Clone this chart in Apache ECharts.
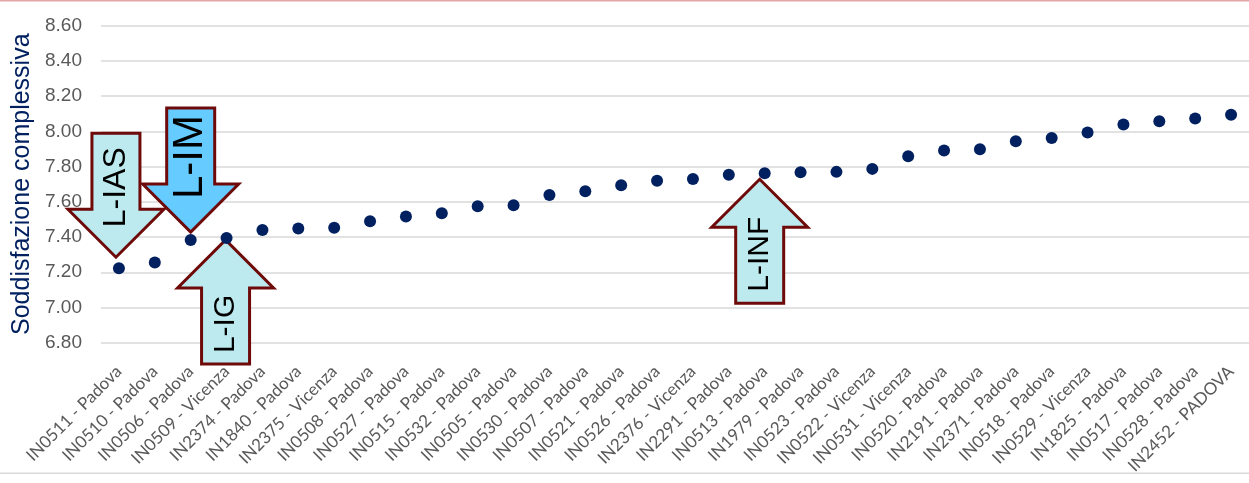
<!DOCTYPE html>
<html>
<head>
<meta charset="utf-8">
<script src="https://cdn.jsdelivr.net/npm/echarts@6/dist/echarts.min.js"></script>
<style>
  html, body { margin: 0; padding: 0; background: #fff; }
  #chart { width: 1249px; height: 483px; }
</style>
</head>
<body>
<div id="chart"></div>
<script>
'use strict';

// corsi di laurea
var categories = [
  'IN0511 - Padova', 'IN0510 - Padova', 'IN0506 - Padova', 'IN0509 - Vicenza',
  'IN2374 - Padova', 'IN1840 - Padova', 'IN2375 - Vicenza', 'IN0508 - Padova',
  'IN0527 - Padova', 'IN0515 - Padova', 'IN0532 - Padova', 'IN0505 - Padova',
  'IN0530 - Padova', 'IN0507 - Padova', 'IN0521 - Padova', 'IN0526 - Padova',
  'IN2376 - Vicenza', 'IN2291 - Padova', 'IN0513 - Padova', 'IN1979 - Padova',
  'IN0523 - Padova', 'IN0522 - Vicenza', 'IN0531 - Vicenza', 'IN0520 - Padova',
  'IN2191 - Padova', 'IN2371 - Padova', 'IN0518 - Padova', 'IN0529 - Vicenza',
  'IN1825 - Padova', 'IN0517 - Padova', 'IN0528 - Padova', 'IN2452 - PADOVA'
];

var satisfaction = [
  7.223, 7.255, 7.383, 7.395, 7.440, 7.448, 7.453, 7.490,
  7.516, 7.535, 7.575, 7.581, 7.639, 7.660, 7.694, 7.719,
  7.730, 7.753, 7.762, 7.768, 7.770, 7.787, 7.859, 7.891,
  7.899, 7.944, 7.963, 7.993, 8.039, 8.058, 8.073, 8.095
];

var yTicks = [6.8, 7.0, 7.2, 7.4, 7.6, 7.8, 8.0, 8.2, 8.4, 8.6];

// frecce: indice del corso a cui puntano
var arrowLabels = ['L-IAS', 'L-IM', 'L-IG', 'L-INF'];
var arrowIndex = [0, 2, 3, 18];
var arrowDir = ['down', 'down', 'up', 'up'];

var arrowStyle = [
  { fill: '#bdeaee', dx: -3, dy: -11, fontSize: 32, textOff: 70 },
  { fill: '#66ccff', dx: 0, dy: -8, fontSize: 42, textOff: 75 },
  { fill: '#bdeaee', dx: -1, dy: 2, fontSize: 30, textOff: 84 },
  { fill: '#bdeaee', dx: -5, dy: 6, fontSize: 30, textOff: 75 }
];

var myChart = echarts.init(document.getElementById('chart'));

var option = {
  backgroundColor: '#ffffff',
  animation: false,
  grid: {
    left: 101,
    top: 25.7,
    width: 1152,
    height: 317
  },
  xAxis: {
    type: 'category',
    data: categories,
    boundaryGap: true,
    axisLine: { show: false },
    axisTick: { show: false },
    axisLabel: {
      interval: 0,
      rotate: 45,
      margin: 26,
      color: '#595959',
      fontFamily: 'Lato',
      fontSize: 17
    }
  },
  yAxis: {
    type: 'value',
    min: yTicks[0],
    max: yTicks[yTicks.length - 1],
    interval: 0.2,
    name: 'Soddisfazione complessiva',
    nameLocation: 'middle',
    nameGap: 65,
    nameTextStyle: {
      color: '#002060',
      fontFamily: 'Liberation Sans',
      fontSize: 25
    },
    axisLine: { show: false },
    axisTick: { show: false },
    axisLabel: {
      margin: 19,
      color: '#595959',
      fontFamily: 'Liberation Sans',
      fontSize: 19,
      formatter: function (v) { return v.toFixed(2); }
    },
    splitLine: {
      lineStyle: { color: '#d9d9d9', width: 1.5 }
    }
  },
  series: [{
    name: 'Soddisfazione complessiva',
    type: 'scatter',
    symbol: 'circle',
    symbolSize: 12,
    itemStyle: { color: '#002060', opacity: 1 },
    data: satisfaction,
    z: 3
  }]
};

myChart.setOption(option);

function arrowShape(tx, ty, dir) {
  var s = dir === 'down' ? -1 : 1;
  var len = 124, head = 48, hw = 48, sw = 24;
  return [
    [tx - sw, ty + s * len],
    [tx + sw, ty + s * len],
    [tx + sw, ty + s * head],
    [tx + hw, ty + s * head],
    [tx, ty],
    [tx - hw, ty + s * head],
    [tx - sw, ty + s * head]
  ];
}

var elements = [
  { type: 'rect', shape: { x: 0, y: 0, width: 1249, height: 1.5 }, style: { fill: '#e3a6a6' }, z: 10 },
  { type: 'rect', shape: { x: 0, y: 472.5, width: 1249, height: 1.5 }, style: { fill: '#d9d9d9' }, z: 10 }
];

arrowLabels.forEach(function (label, i) {
  var idx = arrowIndex[i];
  var st = arrowStyle[i];
  var p = myChart.convertToPixel({ seriesIndex: 0 }, [idx, satisfaction[idx]]);
  var tx = p[0] + st.dx;
  var ty = p[1] + st.dy;
  var s = arrowDir[i] === 'down' ? -1 : 1;
  elements.push({
    type: 'polygon',
    shape: { points: arrowShape(tx, ty, arrowDir[i]) },
    style: { fill: st.fill, stroke: '#6e0a0a', lineWidth: 3, lineJoin: 'miter' },
    z: 1
  });
  elements.push({
    type: 'text',
    x: tx,
    y: ty + s * st.textOff,
    rotation: Math.PI / 2,
    style: {
      text: label,
      x: 0,
      y: 0,
      fill: '#000000',
      font: st.fontSize + 'px "Liberation Sans"',
      align: 'center',
      verticalAlign: 'middle',
      textAlign: 'center',
      textVerticalAlign: 'middle'
    },
    z: 2
  });
});

myChart.setOption({ graphic: { elements: elements } });
</script>
</body>
</html>
